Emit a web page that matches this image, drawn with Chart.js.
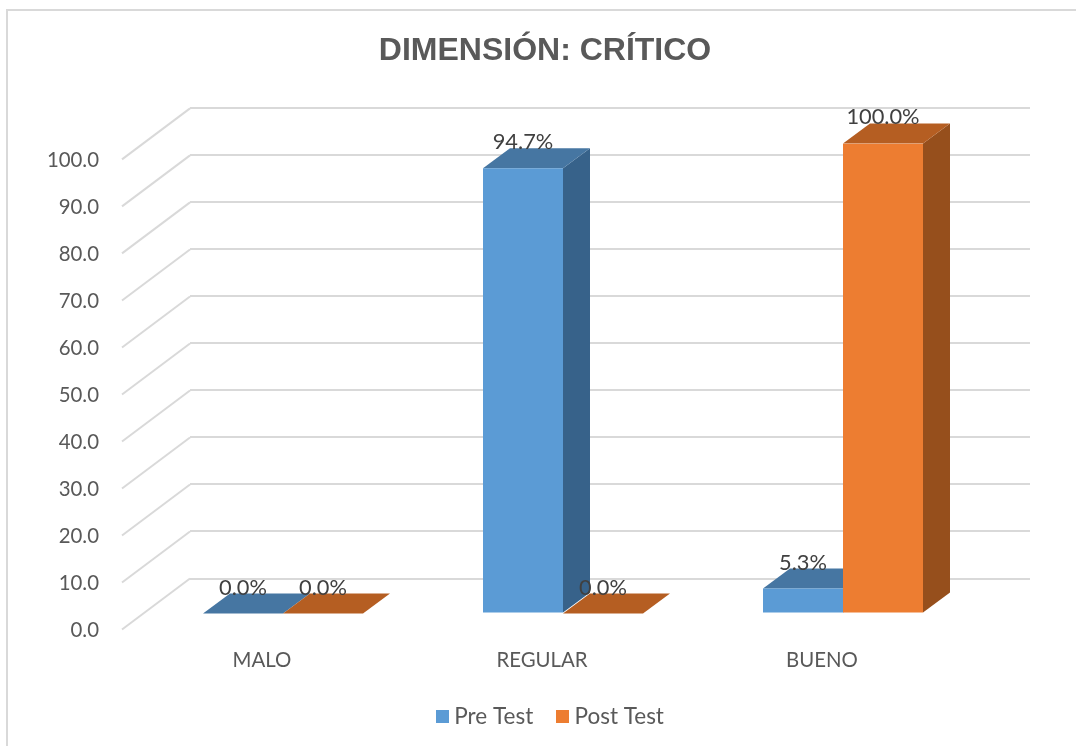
<!DOCTYPE html>
<html>
<head>
<meta charset="utf-8">
<style>
  html, body { margin: 0; padding: 0; background: #fff; overflow: hidden; }
  #box { position: absolute; left: 6px; top: 9px; right: 0; bottom: 0; border-top: 2px solid #d9d9d9; border-left: 2px solid #d9d9d9; }
  #wrap { position: absolute; left: 0; top: 0; width: 1076px; height: 746px; }
</style>
<script src="https://cdn.jsdelivr.net/npm/chart.js@4"></script>
</head>
<body>
<div id="box"></div>
<div id="wrap"><canvas id="chart" width="1076" height="746"></canvas></div>
<script>
const categories = ["MALO", "REGULAR", "BUENO"];
const preTest = [0, 94.7, 5.3];
const postTest = [0, 0, 100];

// bars stand partway into the floor, the wall is further back
const WALL_DX = 68, WALL_DY = 51;
const FRONT_DX = 47, FRONT_DY = 35;
const DEPTH_DX = 27, DEPTH_DY = 20;

const sideColors = ["#37628a", "#964f1c"];
const topColors = ["#4676a2", "#b55e22"];

// legend swatch, a canvas so the text can sit closer than chart.js normally puts it
function swatch(color) {
  const c = document.createElement("canvas");
  c.width = 13;
  c.height = 13;
  const g = c.getContext("2d");
  g.fillStyle = color;
  g.fillRect(0, 0, 13, 13);
  return c;
}

const fake3d = {
  id: "fake3d",
  afterLayout(chart) {
    // tick labels get clipped to the scale box, and the 100.0 sticks out of it
    chart.scales.y.left = 0;
    // legend is not centred under the title in the original
    chart.legend.left += 8;
    chart.legend.right += 8;
  },
  beforeDatasetsDraw(chart) {
    const ctx = chart.ctx;
    const y = chart.scales.y;
    const left = chart.chartArea.left;

    // wall to floor diagonals
    ctx.save();
    ctx.strokeStyle = "#d9d9d9";
    ctx.lineWidth = 2;
    y.ticks.forEach(t => {
      const py = y.getPixelForValue(t.value);
      ctx.beginPath();
      ctx.moveTo(left, py);
      ctx.lineTo(left - WALL_DX, py + WALL_DY);
      ctx.stroke();
    });
    ctx.restore();

    // side + top faces
    chart.data.datasets.forEach((ds, i) => {
      chart.getDatasetMeta(i).data.forEach(bar => {
        const x0 = bar.x - bar.width / 2 - FRONT_DX;
        const x1 = bar.x + bar.width / 2 - FRONT_DX;
        const top = bar.y + FRONT_DY;
        const bottom = bar.base + FRONT_DY;

        ctx.fillStyle = sideColors[i];
        ctx.beginPath();
        ctx.moveTo(x1, top);
        ctx.lineTo(x1 + DEPTH_DX, top - DEPTH_DY);
        ctx.lineTo(x1 + DEPTH_DX, bottom - DEPTH_DY);
        ctx.lineTo(x1, bottom);
        ctx.closePath();
        ctx.fill();

        ctx.fillStyle = topColors[i];
        ctx.beginPath();
        ctx.moveTo(x0, top);
        ctx.lineTo(x0 + DEPTH_DX, top - DEPTH_DY);
        ctx.lineTo(x1 + DEPTH_DX, top - DEPTH_DY);
        ctx.lineTo(x1, top);
        ctx.closePath();
        ctx.fill();
      });
    });

    // front faces are the real bars, just moved forward
    ctx.save();
    ctx.translate(-FRONT_DX, FRONT_DY);
  },
  afterDatasetsDraw(chart) {
    const ctx = chart.ctx;
    ctx.restore();

    ctx.save();
    ctx.fillStyle = "#404040";
    ctx.font = "21.8px Lato";
    ctx.textAlign = "center";
    ctx.textBaseline = "middle";
    chart.data.datasets.forEach((ds, i) => {
      chart.getDatasetMeta(i).data.forEach((bar, j) => {
        ctx.fillText(ds.data[j].toFixed(1) + "%", bar.x - FRONT_DX, bar.y + 9);
      });
    });
    ctx.restore();
  }
};

new Chart(document.getElementById("chart"), {
  type: "bar",
  data: {
    labels: categories,
    datasets: [
      { label: "Pre Test", data: preTest, backgroundColor: "#5b9bd5", pointStyle: swatch("#5b9bd5") },
      { label: "Post Test", data: postTest, backgroundColor: "#ed7d31", pointStyle: swatch("#ed7d31") }
    ]
  },
  options: {
    responsive: false,
    animation: false,
    layout: { padding: { top: 0, right: 46, bottom: 8, left: 60 } },
    datasets: { bar: { categoryPercentage: 160 / 280, barPercentage: 1 } },
    plugins: {
      title: {
        display: true,
        text: "DIMENSIÓN: CRÍTICO",
        color: "#595959",
        font: { family: "Liberation Sans", size: 32, weight: "bold" },
        padding: { top: 32, bottom: 38 }
      },
      legend: {
        position: "bottom",
        labels: {
          color: "#595959",
          font: { family: "Lato", size: 22.5 },
          usePointStyle: true,
          pointStyleWidth: 1,
          boxHeight: 13,
          padding: 29
        }
      },
      tooltip: { enabled: false }
    },
    scales: {
      x: {
        grid: { display: false },
        border: { display: false },
        ticks: { color: "#595959", font: { family: "Lato", size: 20.4 }, labelOffset: -WALL_DX, padding: 62 },
        afterFit(scale) { scale.height = 98; }
      },
      y: {
        min: 0,
        max: 100,
        border: { display: false },
        grid: { color: "#d9d9d9", lineWidth: 2, drawTicks: false },
        ticks: {
          stepSize: 10,
          color: "#595959",
          font: { family: "Lato", size: 20.4 },
          labelOffset: WALL_DY + 1,
          padding: 91,
          callback: v => v.toFixed(1)
        },
        afterFit(scale) { scale.width = 130; }
      }
    }
  },
  plugins: [fake3d]
});
</script>
</body>
</html>
